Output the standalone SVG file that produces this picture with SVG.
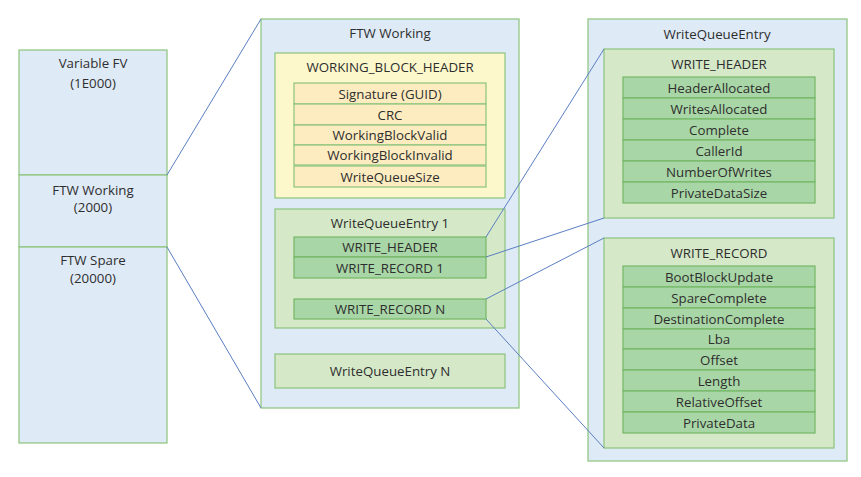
<svg xmlns="http://www.w3.org/2000/svg" width="861" height="477" viewBox="0 0 861 477">
<style>
text{font-family:"Open Sans","Noto Sans",sans-serif;font-size:13.3px;fill:#2e2e2e;text-anchor:middle;dominant-baseline:central}
.blue{fill:#deeaf6;stroke:#8cc47c;stroke-width:1.2}
.yel{fill:#fcf8cc;stroke:#8cc47c;stroke-width:1.2}
.yrow{fill:#fcecc0;stroke:#8cc47c;stroke-width:1.2}
.lg{fill:#d5e8c8;stroke:#8cc47c;stroke-width:1.2}
.dg{fill:#a9d6a6;stroke:#74b766;stroke-width:1.2}
.conn line{stroke:#5b7fc2;stroke-width:1}
</style>
<rect width="861" height="477" fill="#fff"/>
<g id="flash">
<g id="varfv"><rect class="blue" x="19" y="50" width="148" height="125"/><text x="93" y="63">Variable FV</text><text x="93" y="83">(1E000)</text></g>
<g id="ftwworking"><rect class="blue" x="19" y="175" width="148" height="72"/><text x="93" y="190">FTW Working</text><text x="93" y="207">(2000)</text></g>
<g id="ftwspare"><rect class="blue" x="19" y="247" width="148" height="196"/><text x="93" y="260">FTW Spare</text><text x="93" y="278">(20000)</text></g>
</g>
<g id="working">
<rect class="blue" x="261" y="19" width="258" height="389"/><text x="390" y="33">FTW Working</text>
<g id="wbh"><rect class="yel" x="275" y="53" width="230" height="145"/><text x="390" y="67">WORKING_BLOCK_HEADER</text>
<rect class="yrow" x="294" y="83" width="192" height="21"/><text x="390" y="93.5">Signature (GUID)</text>
<rect class="yrow" x="294" y="104" width="192" height="21"/><text x="390" y="114.5">CRC</text>
<rect class="yrow" x="294" y="125" width="192" height="20"/><text x="390" y="135">WorkingBlockValid</text>
<rect class="yrow" x="294" y="145" width="192" height="20"/><text x="390" y="155">WorkingBlockInvalid</text>
<rect class="yrow" x="294" y="166" width="192" height="21"/><text x="390" y="176.5">WriteQueueSize</text>
</g>
<g id="wqe1"><rect class="lg" x="275" y="209" width="230" height="119"/><text x="390" y="223">WriteQueueEntry 1</text>
<rect class="dg" x="294" y="237" width="192" height="20"/><text x="390" y="247">WRITE_HEADER</text>
<rect class="dg" x="294" y="257" width="192" height="21"/><text x="390" y="267.5">WRITE_RECORD 1</text>
<rect class="dg" x="294" y="299" width="192" height="20"/><text x="390" y="309">WRITE_RECORD N</text>
</g>
<g id="wqen"><rect class="lg" x="275" y="354" width="230" height="34"/><text x="390" y="371">WriteQueueEntry N</text></g>
</g>
<g id="entry">
<rect class="blue" x="588" y="19" width="259" height="442"/><text x="717" y="34">WriteQueueEntry</text>
<g id="whdr"><rect class="lg" x="604" y="49" width="230" height="169"/><text x="719" y="64">WRITE_HEADER</text>
<rect class="dg" x="623" y="77" width="192" height="21"/><text x="719" y="87.5">HeaderAllocated</text>
<rect class="dg" x="623" y="98" width="192" height="21"/><text x="719" y="108.5">WritesAllocated</text>
<rect class="dg" x="623" y="119" width="192" height="21"/><text x="719" y="129.5">Complete</text>
<rect class="dg" x="623" y="140" width="192" height="21"/><text x="719" y="150.5">CallerId</text>
<rect class="dg" x="623" y="161" width="192" height="21"/><text x="719" y="171.5">NumberOfWrites</text>
<rect class="dg" x="623" y="182" width="192" height="21"/><text x="719" y="192.5">PrivateDataSize</text>
</g>
<g id="wrec"><rect class="lg" x="604" y="238" width="230" height="210"/><text x="719" y="253">WRITE_RECORD</text>
<rect class="dg" x="623" y="266" width="192" height="21"/><text x="719" y="276.5">BootBlockUpdate</text>
<rect class="dg" x="623" y="287" width="192" height="21"/><text x="719" y="297.5">SpareComplete</text>
<rect class="dg" x="623" y="308" width="192" height="21"/><text x="719" y="318.5">DestinationComplete</text>
<rect class="dg" x="623" y="329" width="192" height="20"/><text x="719" y="339">Lba</text>
<rect class="dg" x="623" y="349" width="192" height="21"/><text x="719" y="359.5">Offset</text>
<rect class="dg" x="623" y="370" width="192" height="21"/><text x="719" y="380.5">Length</text>
<rect class="dg" x="623" y="391" width="192" height="21"/><text x="719" y="401.5">RelativeOffset</text>
<rect class="dg" x="623" y="412" width="192" height="21"/><text x="719" y="422.5">PrivateData</text>
</g>
</g>
<g id="connectors" class="conn">
<line x1="167" y1="175" x2="261" y2="19"/>
<line x1="167" y1="247" x2="261" y2="408"/>
<line x1="486" y1="237" x2="604" y2="49"/>
<line x1="486" y1="257" x2="604" y2="218"/>
<line x1="486" y1="299" x2="604" y2="238"/>
<line x1="486" y1="319" x2="604" y2="448"/>
</g>
</svg>
